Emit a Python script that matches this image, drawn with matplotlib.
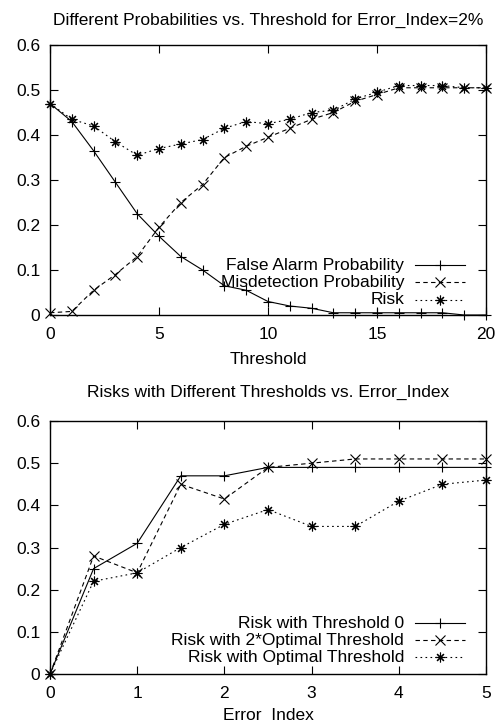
import numpy as np
import matplotlib
matplotlib.use("Agg")
import matplotlib.pyplot as plt
from matplotlib.lines import Line2D

plt.rcParams["font.family"] = ["Liberation Sans", "DejaVu Sans"]

# ---- top panel data: probabilities vs threshold ----
threshold = list(range(21))
false_alarm = [0.47, 0.43, 0.365, 0.295, 0.225, 0.175, 0.13, 0.10, 0.065, 0.055, 0.03,
               0.02, 0.015, 0.005, 0.005, 0.005, 0.005, 0.005, 0.005, 0.0, 0.0]
misdetection = [0.005, 0.008, 0.055, 0.09, 0.13, 0.195, 0.25, 0.29, 0.35, 0.375, 0.395,
                0.415, 0.435, 0.45, 0.475, 0.49, 0.505, 0.505, 0.505, 0.505, 0.505]
risk = [0.47, 0.435, 0.42, 0.385, 0.355, 0.37, 0.38, 0.39, 0.415, 0.43, 0.425,
        0.435, 0.45, 0.455, 0.48, 0.495, 0.51, 0.51, 0.51, 0.505, 0.505]

# ---- bottom panel data: risks vs error index ----
error_index = [0, 0.5, 1, 1.5, 2, 2.5, 3, 3.5, 4, 4.5, 5]
risk_thr0 = [0.0, 0.25, 0.31, 0.47, 0.47, 0.49, 0.49, 0.49, 0.49, 0.49, 0.49]
risk_2opt = [0.0, 0.28, 0.24, 0.45, 0.415, 0.49, 0.50, 0.51, 0.51, 0.51, 0.51]
risk_opt = [0.0, 0.22, 0.24, 0.30, 0.355, 0.39, 0.35, 0.35, 0.41, 0.45, 0.46]

FS = 12.5
LW = 0.8
STAR = (8, 2, 0)
styles = [
    dict(ls="-", marker="+"),
    dict(ls=(0, (4, 3)), marker="x"),
    dict(ls=(0, (1.5, 3)), marker=STAR),
]

fig = plt.figure(figsize=(5, 7.25), dpi=100)
ax1 = fig.add_axes([0.1, 0.5655, 0.872, 0.3724])
ax2 = fig.add_axes([0.1, 0.0703, 0.872, 0.349])


def style_axes(ax, xlim, xticks):
    ax.set_xlim(*xlim)
    ax.set_ylim(0, 0.6)
    ax.set_xticks(xticks)
    ax.set_yticks([0, 0.1, 0.2, 0.3, 0.4, 0.5, 0.6])
    ax.set_yticklabels(["0", "0.1", "0.2", "0.3", "0.4", "0.5", "0.6"])
    ax.tick_params(direction="in", top=True, right=True, length=5.5, width=0.8,
                   labelsize=FS)
    ax.tick_params(axis="x", pad=8.5)
    ax.tick_params(axis="y", pad=7)
    for s in ax.spines.values():
        s.set_linewidth(1.0)


def manual_legend(ax, labels, ys):
    for lab, y, st in zip(labels, ys, styles):
        ax.text(0.812, y, lab, transform=ax.transAxes, ha="right", va="center",
                fontsize=FS)
        ax.add_line(Line2D([0.837, 0.952], [y, y], transform=ax.transAxes,
                           color="black", lw=LW, ls=st["ls"]))
        ax.add_line(Line2D([0.894], [y], transform=ax.transAxes, color="black",
                           marker=st["marker"], ms=7, mew=LW, ls="none"))


for ys, st in zip([false_alarm, misdetection, risk], styles):
    ax1.plot(threshold, ys, color="black", lw=LW, ls=st["ls"], marker=st["marker"],
             ms=7, mew=LW, clip_on=False)
style_axes(ax1, (0, 20), [0, 5, 10, 15, 20])
manual_legend(ax1, ["False Alarm Probability", "Misdetection Probability", "Risk"],
              [0.185, 0.122, 0.056])

for ys, st in zip([risk_thr0, risk_2opt, risk_opt], styles):
    ax2.plot(error_index, ys, color="black", lw=LW, ls=st["ls"], marker=st["marker"],
             ms=7, mew=LW, clip_on=False)
style_axes(ax2, (0, 5), [0, 1, 2, 3, 4, 5])
manual_legend(ax2, ["Risk with Threshold 0", "Risk with 2*Optimal Threshold",
                    "Risk with Optimal Threshold"], [0.2016, 0.134, 0.067])

fig.text(0.536, 1 - 20 / 725, "Different Probabilities vs. Threshold for Error_Index=2%",
         ha="center", va="center", fontsize=FS)
fig.text(0.536, 1 - 360 / 725, "Threshold", ha="center", va="center", fontsize=FS)
fig.text(0.536, 1 - 392 / 725, "Risks with Different Thresholds vs. Error_Index",
         ha="center", va="center", fontsize=FS)
fig.text(0.536, 1 - 716 / 725, "Error  Index", ha="center", va="center", fontsize=FS)

fig.savefig("out.png", dpi=100)
